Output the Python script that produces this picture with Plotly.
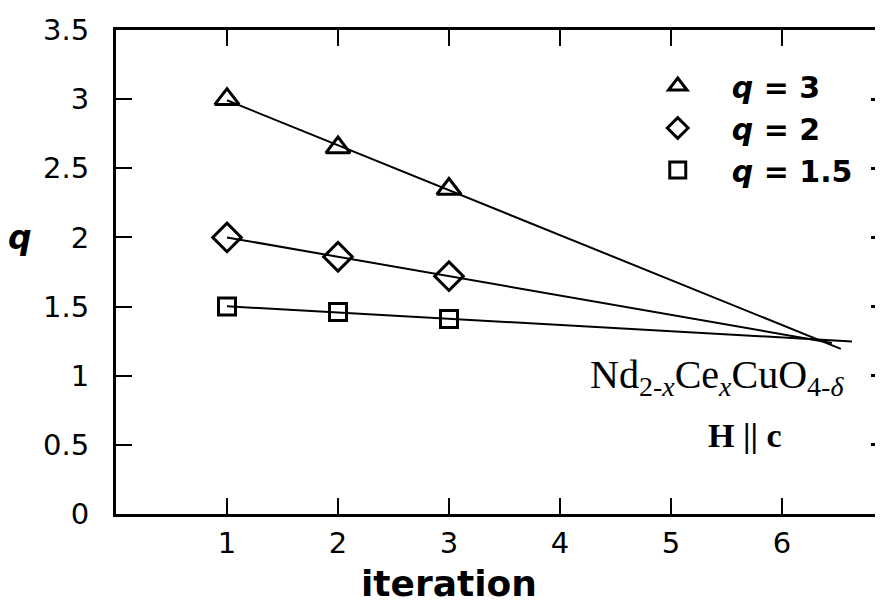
import numpy as np
import plotly.graph_objects as go

iterations = [1, 2, 3]
q3_values = [3.0, 2.65, 2.35]
q2_values = [2.0, 1.86, 1.72]
q15_values = [1.5, 1.46, 1.41]
series_names = ["<b><i>q</i> = 3</b>", "<b><i>q</i> = 2</b>", "<b><i>q</i> = 1.5</b>"]
fit_ends = [6.53, 6.45, 6.63]
x_ticks = [1, 2, 3, 4, 5, 6]
y_ticks = [0, 0.5, 1, 1.5, 2, 2.5, 3, 3.5]
y_tick_labels = ["0", "0.5", "1", "1.5", "2", "2.5", "3", "3.5"]

symbols = ["triangle-up-open", "diamond-open", "square-open"]
sizes = [21, 22, 17]

fig = go.Figure()
for vals, xe in zip([q3_values, q2_values, q15_values], fit_ends):
    slope, icpt = np.polyfit(iterations, vals, 1)
    xs = np.array([iterations[0], xe])
    fig.add_trace(go.Scatter(x=xs, y=slope * xs + icpt, mode="lines",
                             line=dict(color="black", width=2), showlegend=False,
                             hoverinfo="skip"))
for vals, name, sym, sz in zip([q3_values, q2_values, q15_values], series_names, symbols, sizes):
    fig.add_trace(go.Scatter(x=iterations, y=vals, mode="markers", name=name,
                             marker=dict(symbol=sym, size=sz, color="black",
                                         line=dict(color="black", width=3))))

fig.add_trace(go.Scatter(x=[None], y=[None], yaxis="y2", showlegend=False))

fig.update_layout(
    width=875, height=596,
    margin=dict(l=108, r=0, t=22, b=90),
    plot_bgcolor="white", paper_bgcolor="white",
    font=dict(family="DejaVu Sans, Liberation Sans", color="black"),
    showlegend=True,
    legend=dict(x=0.662, y=0.938, xanchor="left", yanchor="top",
                font=dict(size=30, family="DejaVu Sans", color="black"),
                bgcolor="rgba(0,0,0,0)", itemwidth=98),
    xaxis=dict(range=[0, 6.91], tickvals=x_ticks, ticks="inside", ticklen=16,
               tickwidth=2, tickcolor="black", showline=True, linewidth=3,
               linecolor="black", mirror="ticks", showgrid=False, zeroline=False,
               tickfont=dict(size=29), ticklabelstandoff=1),
    yaxis=dict(range=[0, 3.5], tickvals=y_ticks, ticktext=y_tick_labels,
               ticks="inside", ticklen=16, tickwidth=2, tickcolor="black",
               showline=True, linewidth=3, linecolor="black", showgrid=False,
               zeroline=False, tickfont=dict(size=29), ticklabelstandoff=18),
    yaxis2=dict(range=[0, 3.5], overlaying="y", side="right", tickvals=y_ticks,
                ticks="inside", ticklen=12, tickwidth=3, tickcolor="black",
                showticklabels=False, showline=False, showgrid=False, zeroline=False),
    annotations=[
        dict(x=3, y=-0.143, xref="x", yref="paper", text="<b>iteration</b>",
             showarrow=False, font=dict(size=36, family="DejaVu Sans"),
             xanchor="center", yanchor="middle"),
        dict(x=-0.125, y=2.0, xref="paper", yref="y", text="<b><i>q</i></b>",
             showarrow=False, font=dict(size=33, family="DejaVu Sans"),
             xanchor="center", yanchor="middle"),
        dict(x=0.952, y=0.99, xref="paper", yref="y",
             text="Nd<sub>2-<i>x</i></sub>Ce<sub><i>x</i></sub>CuO<sub>4-<i>δ</i></sub>",
             showarrow=False, font=dict(size=40, family="Liberation Serif, Times New Roman"),
             xanchor="right", yanchor="middle"),
        dict(x=5.67, y=0.57, xref="x", yref="y", text="<b>H || c</b>",
             showarrow=False, font=dict(size=34, family="Liberation Serif, Times New Roman"),
             xanchor="center", yanchor="middle"),
    ],
)

fig.write_html("out.html")
